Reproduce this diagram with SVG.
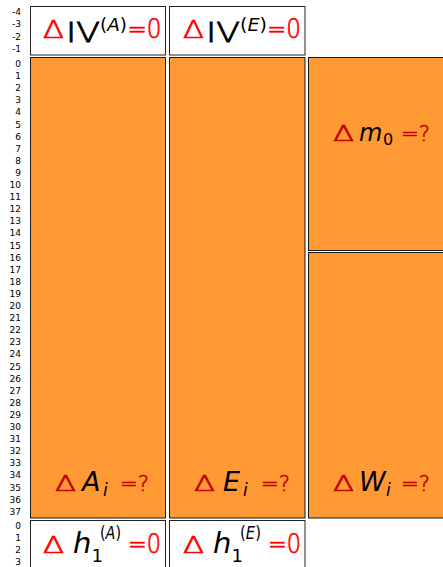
<svg xmlns="http://www.w3.org/2000/svg" width="443" height="567" viewBox="0 0 443 567">
<style>
.ax{font-family:"DejaVu Sans",sans-serif;font-size:9px;fill:#000;text-anchor:end;dominant-baseline:central}
.wb{fill:#fff;stroke:#222;stroke-width:1}
.ob{fill:#FF9933;stroke:#1a1a1a;stroke-width:1}
text{font-family:"DejaVu Sans",sans-serif;fill:#000}
.r{fill:#FF0000;stroke:#FF0000;stroke-width:0.7;font-weight:200}
.dr{fill:#C00000;stroke:#C00000;stroke-width:0.6;font-weight:200}
.k{font-weight:200;stroke:#000;stroke-width:0.8}
.it{font-style:italic}
</style>
<rect width="443" height="567" fill="#fff"/>
<g id="axis">
<text class="ax" x="21" y="12">-4</text>
<text class="ax" x="21" y="24">-3</text>
<text class="ax" x="21" y="36.5">-2</text>
<text class="ax" x="21" y="49">-1</text>
<text class="ax" x="21" y="64">0</text>
<text class="ax" x="21" y="76.1">1</text>
<text class="ax" x="21" y="88.2">2</text>
<text class="ax" x="21" y="100.3">3</text>
<text class="ax" x="21" y="112.4">4</text>
<text class="ax" x="21" y="124.5">5</text>
<text class="ax" x="21" y="136.6">6</text>
<text class="ax" x="21" y="148.7">7</text>
<text class="ax" x="21" y="160.8">8</text>
<text class="ax" x="21" y="172.9">9</text>
<text class="ax" x="21" y="185">10</text>
<text class="ax" x="21" y="197.1">11</text>
<text class="ax" x="21" y="209.2">12</text>
<text class="ax" x="21" y="221.3">13</text>
<text class="ax" x="21" y="233.4">14</text>
<text class="ax" x="21" y="245.5">15</text>
<text class="ax" x="21" y="257.6">16</text>
<text class="ax" x="21" y="269.7">17</text>
<text class="ax" x="21" y="281.8">18</text>
<text class="ax" x="21" y="293.9">19</text>
<text class="ax" x="21" y="306">20</text>
<text class="ax" x="21" y="318.1">21</text>
<text class="ax" x="21" y="330.2">22</text>
<text class="ax" x="21" y="342.3">23</text>
<text class="ax" x="21" y="354.4">24</text>
<text class="ax" x="21" y="366.5">25</text>
<text class="ax" x="21" y="378.6">26</text>
<text class="ax" x="21" y="390.7">27</text>
<text class="ax" x="21" y="402.8">28</text>
<text class="ax" x="21" y="414.9">29</text>
<text class="ax" x="21" y="427">30</text>
<text class="ax" x="21" y="439.1">31</text>
<text class="ax" x="21" y="451.2">32</text>
<text class="ax" x="21" y="463.3">33</text>
<text class="ax" x="21" y="475.4">34</text>
<text class="ax" x="21" y="487.5">35</text>
<text class="ax" x="21" y="499.6">36</text>
<text class="ax" x="21" y="511.7">37</text>
<text class="ax" x="21" y="526">0</text>
<text class="ax" x="21" y="538">1</text>
<text class="ax" x="21" y="550">2</text>
<text class="ax" x="21" y="562">3</text>
</g>
<g id="IV_A">
<rect class="wb" x="30.5" y="6.5" width="135" height="48.5"/>
<text class="r" x="43" y="37.5" font-size="25" textLength="21" lengthAdjust="spacingAndGlyphs">Δ</text>
<text class="k" x="66" y="41.5" font-size="26" textLength="34" lengthAdjust="spacingAndGlyphs">IV</text>
<text x="100" y="31" font-size="18" textLength="27" lengthAdjust="spacingAndGlyphs">(<tspan class="it">A</tspan>)</text>
<text class="r" x="127.5" y="38" font-size="26" textLength="34" lengthAdjust="spacingAndGlyphs">=0</text>
</g>
<g id="IV_E">
<rect class="wb" x="169.5" y="6.5" width="135.5" height="48.5"/>
<text class="r" x="183" y="37.5" font-size="25" textLength="21" lengthAdjust="spacingAndGlyphs">Δ</text>
<text class="k" x="206" y="41.5" font-size="26" textLength="34" lengthAdjust="spacingAndGlyphs">IV</text>
<text x="240" y="31" font-size="18" textLength="27" lengthAdjust="spacingAndGlyphs">(<tspan class="it">E</tspan>)</text>
<text class="r" x="267" y="38" font-size="26" textLength="34" lengthAdjust="spacingAndGlyphs">=0</text>
</g>
<g id="A_i">
<rect class="ob" x="30.5" y="57.5" width="135" height="460.5"/>
<text class="dr" x="55" y="491" font-size="21.5" textLength="21" lengthAdjust="spacingAndGlyphs">Δ</text>
<text class="it" x="82" y="491" font-size="27">A</text>
<text class="it" x="103" y="496" font-size="17">i</text>
<text class="dr" x="120" y="491" font-size="22" textLength="29" lengthAdjust="spacingAndGlyphs">=?</text>
</g>
<g id="E_i">
<rect class="ob" x="169.5" y="57.5" width="135.5" height="460.5"/>
<text class="dr" x="194" y="491" font-size="21.5" textLength="21" lengthAdjust="spacingAndGlyphs">Δ</text>
<text class="it" x="223" y="491" font-size="27">E</text>
<text class="it" x="243" y="496" font-size="17">i</text>
<text class="dr" x="261" y="491" font-size="22" textLength="29" lengthAdjust="spacingAndGlyphs">=?</text>
</g>
<g id="m_0">
<rect class="ob" x="308.5" y="57.5" width="140" height="193"/>
<text class="dr" x="333" y="140.5" font-size="21.5" textLength="21" lengthAdjust="spacingAndGlyphs">Δ</text>
<text class="it" x="359" y="140.5" font-size="24">m</text>
<text x="383" y="145" font-size="16">0</text>
<text class="dr" x="401" y="140.5" font-size="22" textLength="29" lengthAdjust="spacingAndGlyphs">=?</text>
</g>
<g id="W_i">
<rect class="ob" x="308.5" y="252.5" width="140" height="265.5"/>
<text class="dr" x="333" y="491" font-size="21.5" textLength="21" lengthAdjust="spacingAndGlyphs">Δ</text>
<text class="it" x="359" y="491" font-size="27">W</text>
<text class="it" x="386" y="496" font-size="17">i</text>
<text class="dr" x="401" y="491" font-size="22" textLength="29" lengthAdjust="spacingAndGlyphs">=?</text>
</g>
<g id="h1_A">
<rect class="wb" x="30.5" y="520.5" width="135" height="50"/>
<text class="r" x="43" y="552.5" font-size="23.5" textLength="21" lengthAdjust="spacingAndGlyphs">Δ</text>
<text class="it" x="73" y="552.5" font-size="29">h</text>
<text x="91.5" y="562" font-size="18">1</text>
<text x="100" y="539" font-size="18" textLength="21" lengthAdjust="spacingAndGlyphs">(<tspan class="it">A</tspan>)</text>
<text class="r" x="128" y="553" font-size="26" textLength="33" lengthAdjust="spacingAndGlyphs">=0</text>
</g>
<g id="h1_E">
<rect class="wb" x="169.5" y="520.5" width="135.5" height="50"/>
<text class="r" x="183" y="552.5" font-size="23.5" textLength="21" lengthAdjust="spacingAndGlyphs">Δ</text>
<text class="it" x="213" y="552.5" font-size="29">h</text>
<text x="231.5" y="562" font-size="18">1</text>
<text x="240" y="539" font-size="18" textLength="21" lengthAdjust="spacingAndGlyphs">(<tspan class="it">E</tspan>)</text>
<text class="r" x="268" y="553" font-size="26" textLength="33" lengthAdjust="spacingAndGlyphs">=0</text>
</g>
<g id="connectors"/>
</svg>
